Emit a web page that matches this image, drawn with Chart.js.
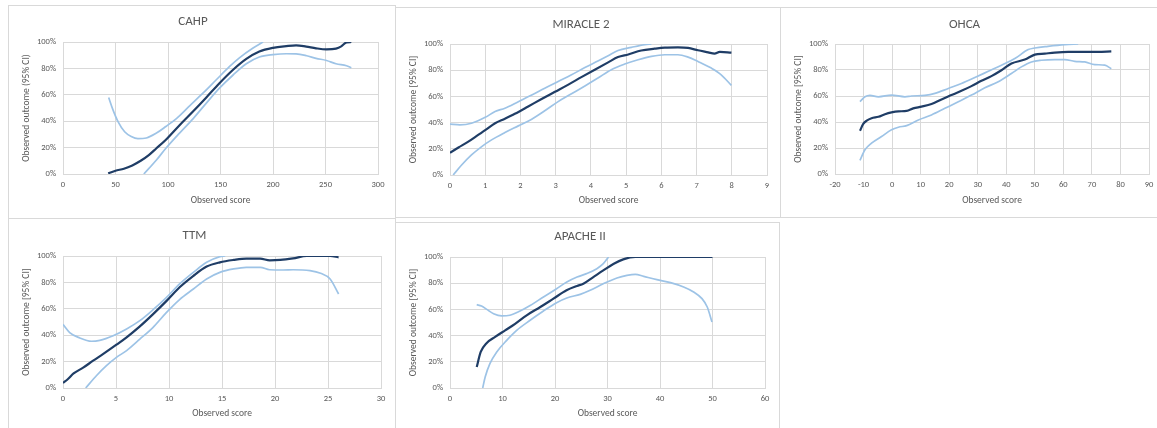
<!DOCTYPE html>
<html>
<head>
<meta charset="utf-8">
<script src="https://cdn.jsdelivr.net/npm/chart.js@4.4.1/dist/chart.umd.min.js"></script>
<style>
  body { margin: 0; width: 1157px; height: 428px; overflow: hidden; position: relative; background: #fff; }
  .panel { position: absolute; border: 1px solid #d9d9d9; box-sizing: border-box; }
  canvas { position: absolute; }
</style>
</head>
<body>
<script>
// values: [score, observed outcome %]
const cahpMean = [[43,0.5],[50,2.5],[58,4],[66,6.5],[74,10],[82,14.5],[89,19.5],[98,26],[111,37],[124,47.5],[136.5,58],[149,68.8],[162,79],[174.6,87.2],[187,92.8],[200,95.6],[212.7,96.9],[222,97.5],[231.7,96.5],[241,95.2],[251,94.4],[260,95],[265,96.7],[270,99.7],[274.6,100]];
const cahpUpper = [[43.5,58],[47.6,48.6],[52.4,39.7],[58.7,32],[65,28.4],[71.4,26.8],[79.4,27.3],[89,31],[98,36],[108,42],[120.6,51.6],[133,61],[146,71.4],[158.7,81.5],[168,88],[181,95.4],[190.5,100]];
const cahpLower = [[77,0],[89,10.6],[98,19.5],[111,31],[124,42],[136.5,53.7],[149,65],[162,75],[174.6,83.5],[187,88.6],[200,90.4],[212.7,91.1],[222,91],[232,89.6],[241,87.6],[251,86],[260,83.5],[270,82],[274.6,80.5]];

const miracleMean = [[0,17],[0.24,21],[0.52,25.5],[0.8,30.6],[1.01,34.4],[1.28,39.5],[1.56,43],[1.84,46.7],[2.22,52.3],[2.6,58],[2.98,63.5],[3.36,69],[3.73,74.7],[4.11,80.4],[4.49,86],[4.77,90],[5.06,92],[5.43,95],[5.81,96.4],[6.1,97.2],[6.47,97.4],[6.76,97],[7.04,95.2],[7.33,93.6],[7.51,92.6],[7.66,94],[7.99,93.4]];
const miracleUpper = [[0,38.8],[0.28,38.3],[0.61,39.5],[1.0,44],[1.28,48.5],[1.56,51],[1.94,56],[2.32,61],[2.69,66.3],[3.07,71.4],[3.45,76.5],[3.83,82],[4.2,87],[4.49,91],[4.77,95],[5.15,97.4],[5.53,99.5],[5.72,100]];
const miracleLower = [[0.09,0],[0.33,7.6],[0.61,15.3],[0.9,21.7],[1.18,26.8],[1.56,32.4],[1.94,37.5],[2.32,42.6],[2.69,49],[3.07,56],[3.45,62],[3.83,68],[4.2,74],[4.58,80.4],[4.96,84.7],[5.34,88],[5.72,90.6],[6.1,91.8],[6.47,91.8],[6.76,90],[7.04,86.7],[7.42,81.6],[7.7,76.5],[7.99,68.4]];

const ohcaMean = [[-11.25,33.2],[-10.1,38.5],[-8.9,41],[-7.2,42.9],[-4.8,44],[-2.5,46],[-0.2,47.4],[2.2,48.2],[5.1,48.5],[7.4,50.5],[10.3,51.8],[13.8,53.8],[17.3,57.4],[20.8,60.7],[24.3,64],[27.8,67.6],[31.3,71.7],[34.8,75.3],[38.3,79.8],[41.8,85],[46.5,88],[50,91.8],[53.5,92.6],[57,93.4],[61.7,93.9],[67.5,93.9],[72.1,93.9],[76.8,94.4]];
const ohcaUpper = [[-11.25,55.6],[-9.5,59.4],[-7.75,60.5],[-4.8,59.4],[-0.2,60.7],[4.5,59.4],[6.8,60],[11.5,60.5],[15,62],[19.7,65.8],[24.3,69.6],[29,74.2],[33.7,79],[38.3,83.7],[43,88.8],[47.7,95.7],[50,96.9],[54.6,98.2],[60.5,99.5],[65.2,100]];
const ohcaLower = [[-11.25,10.5],[-9.5,18.6],[-7.2,23.7],[-3.7,28.8],[-0.2,34],[2.2,36],[5.1,37.2],[9.2,41.6],[13.8,45.4],[18.5,50.5],[23.2,55.6],[27.8,60.7],[32.5,66.3],[37.2,71],[41.8,77.3],[45.3,82.4],[48.8,86.2],[52.3,87.5],[57,88],[60.5,88],[64,86.7],[67.5,86.2],[71,84.2],[74.5,83.7],[76.8,81]];

const ttmMean = [[0,3.8],[0.47,6.8],[1.0,11],[1.9,15.4],[2.84,20.7],[3.8,25.8],[5.04,32.8],[6,38.4],[7.25,46.7],[8.5,56],[9.77,66],[11,76.3],[12.3,85],[13.55,92],[14.8,95.2],[16.1,97],[17.3,98],[18.6,98],[19.5,96.7],[20.5,97],[21.7,98.2],[23,100],[25.2,100],[26,99]];
const ttmUpper = [[0,48.2],[0.63,42],[1.58,37.9],[2.68,35.4],[3.47,36.1],[4.73,39.6],[6,44.7],[7.25,51],[8.5,59.3],[9.77,68.7],[11,78.8],[12.3,87.6],[13.55,95.2],[14.8,99.5],[15.3,100]];
const ttmLower = [[2.14,0],[3.15,9.3],[4.1,16.9],[5.04,23.2],[6,28.3],[7.25,37],[8.5,46],[9.77,57.3],[11,67],[12.3,75],[13.55,82.6],[14.8,87.6],[16.1,90.2],[17.3,91.4],[18.6,91.4],[19.5,89.6],[20.8,89.4],[21.7,89.6],[23.3,88.9],[24.3,86.9],[25.2,82.6],[26,71.2]];

const apacheMean = [[5.09,16],[5.85,27.5],[7,34.4],[8.6,39],[10.5,44],[12.4,49],[14.6,55.5],[17.2,61.8],[19.7,68.2],[22.2,74.6],[24.2,77.9],[25.4,79.6],[27.3,84.7],[29.2,89.8],[31.2,94.9],[33,98.2],[35.3,100],[50,100]];
const apacheUpper = [[5.09,63.6],[6,62.6],[7,60],[8.3,56.7],[9.85,55],[11.4,55.5],[13.35,58.8],[15.26,63],[17.8,69.5],[20.3,75.8],[22.25,80.9],[24.2,84.7],[26,87.3],[27.97,91.1],[29.2,94.9],[30.2,100]];
const apacheLower = [[6.23,0],[6.7,8.4],[7.6,18.6],[8.9,27.5],[10.8,36.4],[12.7,44],[15.26,51.7],[17.8,58.8],[20.3,65.1],[22.25,68.7],[24.8,71.5],[26.7,74.6],[29.2,79.6],[31.8,84],[33.7,86],[35.3,86.8],[36.9,85.2],[39.4,82.7],[42,80.4],[44.5,77.1],[46.4,73.3],[48,68.2],[49,61.8],[49.9,50.4]];

const yTicks = [0, 20, 40, 60, 80, 100];

// layout: box = [left, top, width, height], plot = [left, top, right, bottom]
const panels = [
  { title: 'CAHP', yLabel: 'Observed outcome (95% CI)', mean: cahpMean, upper: cahpUpper, lower: cahpLower,
    xMin: 0, xMax: 300, xStep: 50, box: [8, 5, 388, 214], plot: [63, 42, 378, 174], titleY: 21.5, xTitleY: 201 },
  { title: 'MIRACLE 2', yLabel: 'Observed outcome [95% CI]', mean: miracleMean, upper: miracleUpper, lower: miracleLower,
    xMin: 0, xMax: 9, xStep: 1, box: [395, 7, 386, 211], plot: [450, 44, 767, 175], titleY: 24.3, xTitleY: 201 },
  { title: 'OHCA', yLabel: 'Observed outcome [95% CI]', mean: ohcaMean, upper: ohcaUpper, lower: ohcaLower,
    xMin: -20, xMax: 90, xStep: 10, box: [780, 7, 390, 211], plot: [835, 44, 1149, 174], titleY: 24.3, xTitleY: 201 },
  { title: 'TTM', yLabel: 'Observed outcome [95% CI]', mean: ttmMean, upper: ttmUpper, lower: ttmLower,
    xMin: 0, xMax: 30, xStep: 5, box: [8, 218, 388, 220], plot: [63, 256, 381, 388], titleY: 235.3, xTitleY: 413.7 },
  { title: 'APACHE II', yLabel: 'Observed outcome [95% CI]', mean: apacheMean, upper: apacheUpper, lower: apacheLower,
    xMin: 0, xMax: 60, xStep: 10, box: [395, 222, 385, 220], plot: [450, 257, 765, 388], titleY: 237, xTitleY: 413.7 }
];

const fontFamily = 'Carlito, Calibri, Lato, sans-serif';
const textColor = '#595959';
const gridColor = '#d9d9d9';
const darkBlue = '#1f3d66';
const lightBlue = '#9dc3e6';

function toPoints(arr) {
  return arr.map(p => ({ x: p[0], y: p[1] }));
}

function drawPanel(p) {
  let [bx, by, bw, bh] = p.box;
  let [pl, pt, pr, pb] = p.plot;

  let div = document.createElement('div');
  div.className = 'panel';
  div.style.left = bx + 'px'; div.style.top = by + 'px';
  div.style.width = bw + 'px'; div.style.height = bh + 'px';
  document.body.appendChild(div);

  let cv = document.createElement('canvas');
  cv.width = bw; cv.height = bh;
  cv.style.left = bx + 'px'; cv.style.top = by + 'px';
  document.body.appendChild(cv);

  let yWidth = pl - bx;
  let titleSize = 13, titleLH = titleSize * 1.2;
  let tCenter = p.titleY - by;
  let xHeight = p.xTitleY - pb + 5.7;
  let padBottom = by + bh - pb - xHeight;

  let line = (data, color, w) => ({
    data: toPoints(data), borderColor: color, borderWidth: w, pointRadius: 0,
    cubicInterpolationMode: 'monotone', fill: false
  });

  new Chart(cv, {
    type: 'line',
    data: {
      datasets: [
        line(p.upper, lightBlue, 1.7),
        line(p.lower, lightBlue, 1.7),
        line(p.mean, darkBlue, 2.2)
      ]
    },
    options: {
      responsive: false,
      animation: false,
      devicePixelRatio: 1,
      layout: { padding: { left: 0, top: 0, right: bx + bw - pr, bottom: padBottom } },
      plugins: {
        legend: { display: false },
        tooltip: { enabled: false },
        title: {
          display: true, text: p.title, color: textColor,
          font: { family: fontFamily, size: titleSize, weight: 'normal', lineHeight: 1.2 },
          padding: { top: tCenter - titleLH / 2, bottom: (pt - by) - tCenter - titleLH / 2 }
        }
      },
      scales: {
        x: {
          type: 'linear', min: p.xMin, max: p.xMax,
          ticks: { stepSize: p.xStep, color: textColor, font: { family: fontFamily, size: 8.5 }, padding: 6 },
          grid: { color: gridColor, drawTicks: false },
          border: { color: gridColor },
          title: { display: true, text: 'Observed score', color: textColor,
                   font: { family: fontFamily, size: 9.5, lineHeight: 1.2 }, padding: { top: 2, bottom: 0 } },
          afterFit: s => { s.height = xHeight; }
        },
        y: {
          min: 0, max: 100,
          afterBuildTicks: s => { s.ticks = yTicks.map(v => ({ value: v })); },
          ticks: { color: textColor, font: { family: fontFamily, size: 8.5 }, padding: 7, callback: v => v + '%' },
          grid: { color: gridColor, drawTicks: false },
          border: { display: false },
          title: { display: true, text: p.yLabel, color: textColor,
                   font: { family: fontFamily, size: 9.5, lineHeight: 1.2 }, padding: { top: 12.5, bottom: 0 } },
          afterFit: s => { s.width = yWidth; }
        }
      }
    }
  });
}

panels.forEach(drawPanel);
</script>
</body>
</html>
